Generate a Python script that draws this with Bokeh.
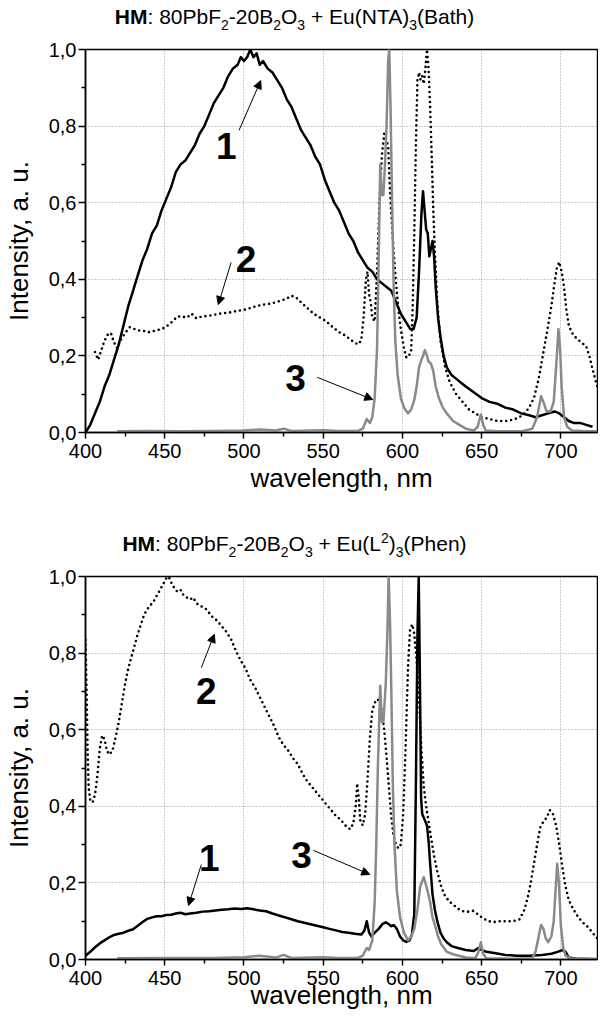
from bokeh.plotting import figure
from bokeh.models import Range1d, FixedTicker, Label, Arrow, NormalHead, CustomJSTickFormatter, Div
from bokeh.layouts import column
from bokeh.embed import file_html
from bokeh.resources import INLINE

FONT = "Liberation Sans"

# ---------------- data: top panel (Eu(NTA)3(Bath)) ----------------
top1_x = [400, 403, 406, 409, 412, 415, 418, 421, 424, 427, 430, 433, 436, 439, 442, 445, 448, 451, 454, 457,
          460, 463, 466, 469, 472, 475, 478, 481, 484, 487, 490, 493, 496, 498, 500, 502, 504, 506, 508, 510,
          512, 515, 518, 521, 524, 527, 530, 533, 536, 539, 542, 545, 548, 551, 554, 557, 560, 563, 566, 569,
          572, 575, 578, 581, 584, 587, 590, 593, 596, 599, 602, 605, 607, 609, 610.5, 612, 613, 614, 615, 616,
          617, 618, 619, 620, 621, 622.5, 624, 626, 628, 631, 634, 637, 640, 645, 650, 655, 660, 665, 670, 675,
          680, 684, 688, 692, 696, 699, 702, 705, 708, 712, 716, 720]
top1_y = [0.00, 0.02, 0.05, 0.08, 0.12, 0.15, 0.19, 0.23, 0.28, 0.33, 0.37, 0.41, 0.45, 0.48, 0.52, 0.54, 0.58, 0.61, 0.64, 0.68,
          0.70, 0.71, 0.73, 0.75, 0.78, 0.80, 0.83, 0.86, 0.88, 0.90, 0.93, 0.95, 0.96, 0.98, 0.97, 0.98, 1.00, 0.98, 0.99, 0.96,
          0.97, 0.95, 0.94, 0.92, 0.90, 0.87, 0.85, 0.82, 0.79, 0.77, 0.75, 0.72, 0.70, 0.66, 0.63, 0.60, 0.58, 0.55, 0.52, 0.50,
          0.47, 0.45, 0.43, 0.42, 0.40, 0.39, 0.38, 0.37, 0.34, 0.31, 0.29, 0.27, 0.27, 0.30, 0.42, 0.57, 0.63, 0.58, 0.53, 0.52,
          0.46, 0.48, 0.50, 0.46, 0.38, 0.30, 0.25, 0.20, 0.17, 0.15, 0.14, 0.13, 0.12, 0.105, 0.09, 0.08, 0.075, 0.065, 0.06, 0.05,
          0.045, 0.04, 0.045, 0.05, 0.055, 0.05, 0.04, 0.03, 0.025, 0.025, 0.02, 0.015]

top2_x = [406, 408, 410, 412, 414, 416, 418, 420, 422, 425, 428, 431, 434, 437, 440, 443, 446, 449, 452, 455,
          458, 461, 464, 467, 470, 473, 476, 480, 484, 488, 492, 496, 500, 504, 508, 512, 516, 520, 524, 527,
          530, 533, 536, 540, 544, 548, 552, 556, 560, 564, 568, 572, 574, 575.5, 577, 578, 579, 580, 581, 582.5,
          584, 585.5, 587, 588.5, 590, 591, 592, 593, 594.5, 596, 597.5, 599, 601, 602.5, 604, 605.5, 606.5, 607.5, 608.5, 609.5,
          610.5, 611.5, 612.5, 613.5, 614.5, 615.5, 616.5, 617.5, 618.5, 619.5, 620.5, 622, 624, 627, 630, 634, 638, 642, 646, 650,
          655, 660, 666, 671, 676, 680, 683, 686, 689, 692, 694, 696, 697.5, 699, 700.5, 702, 703.5, 705, 707, 710,
          713, 716, 718, 720, 722, 723]
top2_y = [0.21, 0.19, 0.215, 0.24, 0.255, 0.26, 0.235, 0.22, 0.24, 0.26, 0.275, 0.27, 0.266, 0.265, 0.262, 0.265, 0.268, 0.272, 0.28, 0.29,
          0.303, 0.303, 0.30, 0.31, 0.298, 0.302, 0.304, 0.306, 0.31, 0.312, 0.314, 0.318, 0.32, 0.325, 0.33, 0.334, 0.336, 0.34, 0.345, 0.35,
          0.357, 0.352, 0.34, 0.325, 0.31, 0.30, 0.29, 0.275, 0.262, 0.253, 0.24, 0.23, 0.24, 0.30, 0.40, 0.42, 0.36, 0.34, 0.30, 0.29,
          0.42, 0.60, 0.72, 0.78, 0.76, 0.75, 0.65, 0.57, 0.47, 0.39, 0.32, 0.27, 0.22, 0.195, 0.20, 0.21, 0.33, 0.52, 0.75, 0.92,
          0.94, 0.92, 0.93, 0.91, 0.95, 1.0, 0.95, 0.85, 0.72, 0.58, 0.47, 0.34, 0.24, 0.17, 0.13, 0.10, 0.08, 0.06, 0.05, 0.04,
          0.035, 0.03, 0.03, 0.035, 0.045, 0.065, 0.09, 0.14, 0.21, 0.28, 0.33, 0.39, 0.43, 0.445, 0.42, 0.38, 0.32, 0.28, 0.26, 0.245,
          0.235, 0.225, 0.20, 0.165, 0.135, 0.12]

top3_x = [420, 440, 460, 480, 500, 510, 520, 525, 530, 550, 560, 572, 575, 577.5, 579.5, 581, 582.5, 584, 585, 586,
          587, 588, 589, 590, 591, 591.7, 592.5, 593.5, 594.5, 595.5, 597, 599, 601, 603.5, 605.5, 607.5, 609, 610.5, 612, 613,
          614.2, 615.5, 616.5, 618, 619.5, 621, 623, 625.5, 628, 632, 636, 640, 645, 647.5, 649.5, 651, 652.5, 660, 675, 682,
          685, 687.5, 689, 691, 693.5, 695.5, 697, 698.5, 699.5, 700.5, 702, 704, 707, 715, 723]
top3_y = [0.003, 0.004, 0.003, 0.004, 0.005, 0.008, 0.005, 0.01, 0.004, 0.006, 0.004, 0.004, 0.01, 0.035, 0.025, 0.04, 0.09, 0.22, 0.45, 0.70,
          0.62, 0.62, 0.70, 0.80, 0.97, 1.0, 0.85, 0.60, 0.38, 0.24, 0.15, 0.09, 0.065, 0.05, 0.06, 0.085, 0.12, 0.17, 0.19, 0.20,
          0.215, 0.20, 0.185, 0.18, 0.16, 0.12, 0.09, 0.065, 0.05, 0.03, 0.02, 0.01, 0.005, 0.015, 0.047, 0.02, 0.005, 0.003, 0.003, 0.01,
          0.04, 0.095, 0.08, 0.055, 0.055, 0.08, 0.17, 0.27, 0.22, 0.12, 0.04, 0.015, 0.005, 0.003, 0.003]

# ---------------- data: bottom panel (Eu(L2)3(Phen)) ----------------
bot1_x = [400, 403, 406, 409, 412, 415, 418, 421, 424, 427, 430, 433, 436, 439, 442, 445, 448, 451, 454, 457,
          460, 463, 466, 470, 474, 478, 482, 486, 490, 494, 498, 502, 506, 510, 514, 518, 522, 526, 530, 534,
          538, 542, 546, 550, 554, 558, 562, 566, 570, 574, 576, 577.5, 579, 580.5, 582.5, 585, 587.5, 589.5, 591.5, 593,
          594.5, 596.5, 598.5, 600.5, 602.5, 604.5, 606, 607.5, 608.5, 609.5, 610.3, 611, 611.8, 612.5, 613.5, 614.5, 615.5, 616.5, 617.5, 619,
          620.5, 622, 624, 626, 628, 631, 635, 640, 645, 648, 650, 653, 658, 665, 672, 680, 688, 694, 698, 701,
          703, 705, 710, 716]
bot1_y = [0.01, 0.02, 0.032, 0.042, 0.05, 0.058, 0.064, 0.067, 0.07, 0.075, 0.079, 0.088, 0.098, 0.106, 0.11, 0.113, 0.113, 0.116, 0.117, 0.12,
          0.122, 0.118, 0.12, 0.122, 0.125, 0.126, 0.128, 0.13, 0.131, 0.133, 0.132, 0.134, 0.131, 0.128, 0.126, 0.12, 0.115, 0.11, 0.105, 0.10,
          0.096, 0.092, 0.088, 0.084, 0.08, 0.076, 0.072, 0.07, 0.067, 0.065, 0.075, 0.10, 0.07, 0.06, 0.07, 0.08, 0.093, 0.097, 0.092, 0.087,
          0.09, 0.08, 0.06, 0.05, 0.046, 0.05, 0.065, 0.12, 0.45, 0.85, 1.0, 0.75, 0.42, 0.38, 0.37, 0.36, 0.35, 0.31, 0.25, 0.17,
          0.13, 0.10, 0.07, 0.055, 0.045, 0.035, 0.03, 0.025, 0.022, 0.03, 0.025, 0.02, 0.017, 0.012, 0.01, 0.01, 0.012, 0.015, 0.02, 0.025,
          0.02, 0.005, 0.002, 0.001]

bot2_x = [400, 400.7, 401.3, 402, 403, 404.5, 406, 407.5, 409, 410.5, 412, 413.5, 415, 417, 419, 421, 423, 425, 427, 429,
          431, 433, 435, 437, 439, 441, 443, 445, 447, 449, 451, 452.5, 454, 456, 458, 460, 462, 464, 466, 468,
          470, 472, 474, 476, 478, 480, 483, 486, 489, 492, 495, 498, 501, 504, 507, 510, 513, 516, 519, 522,
          525, 528, 531, 534, 537, 540, 543, 546, 549, 552, 555, 558, 561, 564, 567, 569, 570.5, 571.5, 572.5, 573.5,
          575, 576.5, 578, 579.5, 581, 582.5, 584, 585.5, 587, 588.5, 590, 591.5, 593, 594.5, 596, 597.5, 599, 600.5, 602, 603.5,
          604.8, 606.2, 607.5, 609, 610.5, 612, 613.5, 615, 616.5, 618, 620, 622, 624.5, 627, 630, 633, 636, 639, 642, 644.5,
          647, 650, 654, 658, 662, 666, 670, 674, 677, 679, 681, 683, 685, 687, 689, 691, 693, 695, 697, 699,
          701, 703, 705, 708, 711, 714, 717, 720, 723]
bot2_y = [0.835, 0.70, 0.55, 0.45, 0.415, 0.41, 0.43, 0.48, 0.55, 0.585, 0.575, 0.545, 0.535, 0.545, 0.58, 0.62, 0.67, 0.72, 0.76, 0.79,
          0.82, 0.85, 0.875, 0.90, 0.915, 0.925, 0.935, 0.95, 0.965, 0.98, 0.995, 1.0, 0.985, 0.97, 0.96, 0.965, 0.95, 0.945, 0.94, 0.945,
          0.93, 0.925, 0.92, 0.915, 0.905, 0.895, 0.885, 0.87, 0.855, 0.835, 0.805, 0.78, 0.76, 0.73, 0.71, 0.685, 0.66, 0.635, 0.61, 0.58,
          0.56, 0.545, 0.525, 0.51, 0.485, 0.465, 0.45, 0.435, 0.42, 0.405, 0.39, 0.375, 0.365, 0.35, 0.34, 0.355, 0.40, 0.46, 0.42, 0.36,
          0.35, 0.38, 0.47, 0.58, 0.65, 0.67, 0.68, 0.675, 0.65, 0.60, 0.53, 0.45, 0.37, 0.32, 0.30, 0.29, 0.30, 0.38, 0.55, 0.76,
          0.86, 0.875, 0.85, 0.78, 0.68, 0.55, 0.45, 0.40, 0.36, 0.32, 0.27, 0.23, 0.19, 0.165, 0.15, 0.14, 0.13, 0.125, 0.125, 0.127,
          0.12, 0.11, 0.10, 0.098, 0.10, 0.10, 0.10, 0.105, 0.13, 0.16, 0.20, 0.25, 0.30, 0.345, 0.36, 0.37, 0.39, 0.38, 0.35, 0.30,
          0.24, 0.19, 0.155, 0.13, 0.11, 0.096, 0.085, 0.07, 0.055]

bot3_x = [420, 450, 480, 500, 510, 520, 525, 530, 550, 560, 572, 575, 577.5, 579, 581, 582.5, 583.5, 584.5, 586, 587,
          588, 589.5, 590.5, 591.3, 592.2, 593, 594, 595, 596.5, 598.5, 601, 603.5, 605.5, 607.5, 609.5, 611.2, 612.5, 613.5, 614.5, 615.8,
          617.5, 619, 620.5, 622.5, 624.5, 628, 632.5, 640, 646, 648, 649.5, 651, 653, 670, 682, 684, 686, 687.5, 689, 690.5,
          692, 694, 695.5, 696.5, 697.7, 698.8, 700, 701.5, 703, 706, 723]
bot3_y = [0.003, 0.004, 0.004, 0.006, 0.01, 0.005, 0.012, 0.004, 0.006, 0.004, 0.004, 0.01, 0.03, 0.025, 0.05, 0.15, 0.30, 0.50, 0.715, 0.62,
          0.62, 0.72, 0.85, 1.0, 0.88, 0.70, 0.45, 0.30, 0.18, 0.11, 0.07, 0.05, 0.06, 0.08, 0.13, 0.19, 0.205, 0.215, 0.20, 0.18,
          0.15, 0.11, 0.09, 0.06, 0.04, 0.02, 0.013, 0.005, 0.003, 0.02, 0.045, 0.015, 0.003, 0.002, 0.003, 0.02, 0.06, 0.09, 0.08, 0.055,
          0.045, 0.06, 0.10, 0.17, 0.25, 0.20, 0.09, 0.03, 0.01, 0.003, 0.002]

# ---------------- text / annotations ----------------
x_major = [400, 450, 500, 550, 600, 650, 700]
x_minor = [425, 475, 525, 575, 625, 675, 725]
y_major = [0.0, 0.2, 0.4, 0.6, 0.8, 1.0]
y_minor = [0.1, 0.3, 0.5, 0.7, 0.9]
x_label = "wavelength, nm"
y_label = "Intensity, a. u."

title_top = [("HM", "b"), (": 80PbF", "n"), ("2", "sub"), ("-20B", "n"), ("2", "sub"), ("O", "n"), ("3", "sub"),
             (" + Eu(NTA)", "n"), ("3", "sub"), ("(Bath)", "n")]
title_bot = [("HM", "b"), (": 80PbF", "n"), ("2", "sub"), ("-20B", "n"), ("2", "sub"), ("O", "n"), ("3", "sub"),
             (" + Eu(L", "n"), ("2", "sup"), (")", "n"), ("3", "sub"), ("(Phen)", "n")]

# curve numbers: (text, x, y) and pointer arrows (x_start, y_start, x_end, y_end) in data units
num_top = [("1", 488.8, 0.749), ("2", 501.3, 0.454), ("3", 532.5, 0.141)]
arr_top = [(496.9, 0.789, 510.6, 0.919), (491.9, 0.444, 483.8, 0.334), (546.3, 0.144, 581.3, 0.086)]
num_bot = [("2", 476.3, 0.702), ("1", 478.1, 0.266), ("3", 536.3, 0.274)]
arr_bot = [(473.1, 0.762, 481.3, 0.849), (473.1, 0.248, 465.0, 0.141), (543.8, 0.285, 579.4, 0.222)]

PX_PER_NM = 1.6


def title_div(pieces, height, pad_top):
    parts = []
    for txt, kind in pieces:
        if kind == "b":
            parts.append("<b>%s</b>" % txt)
        elif kind == "sub":
            parts.append('<span style="font-size:14px;vertical-align:-6px;line-height:0">%s</span>' % txt)
        elif kind == "sup":
            parts.append('<span style="font-size:14px;vertical-align:8px;line-height:0">%s</span>' % txt)
        else:
            parts.append(txt)
    html = ('<div style="width:598px;height:%dpx;box-sizing:border-box;overflow:hidden;'
            'padding-right:9px;padding-top:%dpx;'
            'text-align:center;font-family:\'Liberation Sans\',Arial,sans-serif;font-size:21px;'
            'line-height:24px;color:black;white-space:nowrap">%s</div>' % (height, pad_top, "".join(parts)))
    return Div(text=html, width=598, height=height, margin=(0, 0, 0, 0))


def make_fig(h, b_top, b_bot, xlabel_standoff):
    p = figure(width=598, height=h, x_range=Range1d(400, 400 + 517 / PX_PER_NM), y_range=Range1d(0, 1),
               output_backend="svg", toolbar_location=None, title=None,
               min_border_left=80, min_border_right=1, min_border_top=b_top, min_border_bottom=b_bot)
    p.background_fill_color = "white"
    p.border_fill_color = "white"
    p.outline_line_color = "black"
    p.outline_line_width = 1.5
    p.outline_line_alpha = 1.0

    p.xaxis.ticker = FixedTicker(ticks=x_major, minor_ticks=x_minor)
    p.yaxis.ticker = FixedTicker(ticks=y_major, minor_ticks=y_minor)
    p.yaxis.formatter = CustomJSTickFormatter(code="return tick.toFixed(1).replace('.', ',');")
    for ax in (p.xaxis, p.yaxis):
        ax.axis_line_color = "black"
        ax.axis_line_width = 1.5
        ax.major_tick_line_color = "black"
        ax.major_tick_line_width = 1.5
        ax.minor_tick_line_color = "black"
        ax.minor_tick_line_width = 1.5
        ax.major_tick_in = 0
        ax.minor_tick_in = 0
        ax.major_label_text_font = FONT
        ax.major_label_text_font_size = "20px"
        ax.major_label_text_color = "black"
        ax.axis_label_text_font = FONT
        ax.axis_label_text_font_size = "26px"
        ax.axis_label_text_font_style = "normal"
        ax.axis_label_text_color = "black"
    p.xaxis.major_tick_out = 6
    p.xaxis.minor_tick_out = 4
    p.xaxis.major_label_standoff = 5
    p.yaxis.major_tick_out = 7
    p.yaxis.minor_tick_out = 4
    p.yaxis.major_label_standoff = 2
    p.yaxis.axis_label = y_label
    p.yaxis.axis_label_standoff = 12
    p.xaxis.axis_label = x_label
    p.xaxis.axis_label_standoff = xlabel_standoff

    p.xgrid.ticker = FixedTicker(ticks=x_major)
    p.ygrid.ticker = FixedTicker(ticks=y_major)
    p.grid.grid_line_color = "#9a9a9a"
    p.grid.grid_line_width = 1
    p.grid.grid_line_dash = "1 2"
    return p


def draw(p, c1, c2, c3, nums, arrs):
    p.line(c2[0], c2[1], line_color="black", line_width=2.6, line_dash="0 5", line_cap="round")
    p.line(c1[0], c1[1], line_color="black", line_width=2.5, line_join="round")
    p.line(c3[0], c3[1], line_color="#8a8a8a", line_width=2.5, line_join="round")
    for t, x, y in nums:
        p.add_layout(Label(x=x, y=y, text=t, text_font=FONT, text_font_size="37px", text_font_style="bold",
                           text_align="center", text_baseline="middle", text_color="black"))
    for xs, ys, xe, ye in arrs:
        p.add_layout(Arrow(end=NormalHead(size=8, line_color="black", fill_color="black", line_width=1),
                           x_start=xs, y_start=ys, x_end=xe, y_end=ye, line_color="black", line_width=1))


d1 = title_div(title_top, 37, 5)
p1 = make_fig(470, 12, 75, 2)
draw(p1, (top1_x, top1_y), (top2_x, top2_y), (top3_x, top3_y), num_top, arr_top)

d2 = title_div(title_bot, 57, 25)
p2 = make_fig(451, 12, 56, -8)
draw(p2, (bot1_x, bot1_y), (bot2_x, bot2_y), (bot3_x, bot3_y), num_bot, arr_bot)

layout = column(d1, p1, d2, p2, spacing=0)
open("out.html", "w").write(file_html(layout, INLINE))
